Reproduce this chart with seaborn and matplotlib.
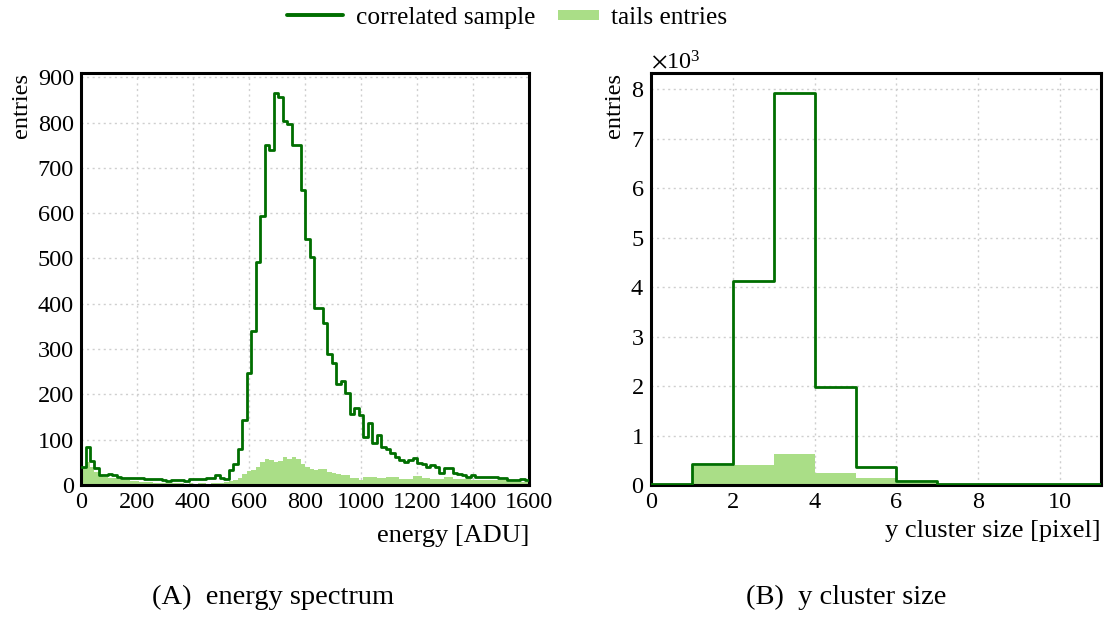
import numpy as np
import pandas as pd
import seaborn as sns
import matplotlib
matplotlib.use("Agg")
import matplotlib.pyplot as plt
from matplotlib.ticker import MultipleLocator, ScalarFormatter
from matplotlib.lines import Line2D
from matplotlib.patches import Patch, Rectangle
from matplotlib.legend_handler import HandlerPatch

# ---------------- data ----------------
energy_range = (0, 1600)
energy_binwidth = 16  # 100 bins
energy_correlated = [
    40, 85, 53, 38, 22, 22, 24, 22, 18, 15,
    15, 15, 16, 16, 14, 14, 13, 13, 12, 9,
    12, 12, 11, 8, 14, 13, 14, 13, 15, 16,
    22, 15, 14, 33, 47, 80, 144, 248, 339, 492,
    593, 750, 739, 866, 856, 804, 796, 750, 750, 651,
    543, 503, 390, 390, 358, 290, 270, 222, 230, 203,
    156, 170, 154, 106, 136, 92, 110, 84, 79, 70,
    62, 55, 50, 55, 60, 49, 46, 39, 44, 40,
    27, 37, 37, 27, 24, 22, 18, 22, 18, 17,
    18, 18, 18, 15, 15, 11, 12, 12, 13, 12,
]
energy_tails = [
    38, 50, 40, 29, 22, 18, 16, 15, 13, 12,
    10, 9, 8, 7, 6, 6, 5, 5, 5, 4,
    4, 4, 4, 3, 4, 3, 4, 4, 3, 4,
    5, 5, 7, 8, 12, 15, 25, 32, 33, 40,
    50, 57, 55, 51, 54, 62, 58, 62, 57, 47,
    40, 36, 33, 35, 35, 29, 27, 24, 23, 22,
    16, 15, 12, 18, 17, 18, 15, 15, 18, 18,
    18, 13, 13, 13, 20, 20, 16, 16, 13, 13,
    13, 18, 18, 14, 14, 14, 14, 11, 11, 11,
    11, 10, 10, 10, 10, 7, 7, 7, 7, 7,
]
cluster_range = (0, 11)
cluster_binwidth = 1
cluster_correlated = [15, 430, 4130, 7930, 1980, 370, 80, 25, 20, 18, 15]
cluster_tails = [5, 390, 400, 630, 240, 135, 45, 8, 5, 3, 2]

legend_labels = ["correlated sample", "tails entries"]
captions = ["(A)  energy spectrum", "(B)  y cluster size"]

# ---------------- style ----------------
sns.set_theme(style="white")
plt.rcParams["font.family"] = ["Liberation Serif", "DejaVu Serif"]
plt.rcParams["mathtext.fontset"] = "stix"
plt.rcParams["text.color"] = "black"
plt.rcParams["axes.labelcolor"] = "black"
FS_TICK = 17.5
FS_LABEL = 19
FS_LEG = 18.3
FS_CAP = 20.5
dark = "#006e00"
light = "#aade87"

fig = plt.figure(figsize=(11.04, 6.17), dpi=100)
axL = fig.add_axes([0.0734, 0.2139, 0.4058, 0.6677])
axR = fig.add_axes([0.5897, 0.2139, 0.4076, 0.6677])


def draw(ax, rng, bw, corr, tails):
    n = len(corr)
    centers = rng[0] + bw * (np.arange(n) + 0.5)
    df = pd.DataFrame({"x": centers, "corr": corr, "tails": tails})
    sns.histplot(data=df, x="x", weights="tails", binwidth=bw, binrange=rng,
                 element="step", fill=True, color=light, alpha=1.0,
                 linewidth=0, ax=ax, zorder=2)
    sns.histplot(data=df, x="x", weights="corr", binwidth=bw, binrange=rng,
                 element="step", fill=False, color=dark, linewidth=2.0,
                 ax=ax, zorder=3)
    ax.set_axisbelow(True)
    ax.grid(True, which="major", linestyle=(0, (1.5, 2.5)), color="#cfcfcf", linewidth=1.0)
    for s in ax.spines.values():
        s.set_linewidth(2.2)
        s.set_color("black")
    ax.tick_params(which="both", direction="in", top=False, right=False,
                   labelsize=FS_TICK, colors="black")
    ax.tick_params(which="major", length=6, width=1.2)
    ax.tick_params(which="minor", length=3.5, width=1.0)
    ax.tick_params(axis="x", which="major", pad=5)
    ax.tick_params(axis="y", which="major", pad=5)
    return max(corr)


m = draw(axL, energy_range, energy_binwidth, energy_correlated, energy_tails)
axL.set_xlim(*energy_range)
axL.set_ylim(0, 1.05 * m)
axL.xaxis.set_major_locator(MultipleLocator(200))
axL.xaxis.set_minor_locator(MultipleLocator(50))
axL.yaxis.set_major_locator(MultipleLocator(100))
axL.yaxis.set_minor_locator(MultipleLocator(20))
axL.set_xlabel("energy [ADU]", fontsize=FS_LABEL, loc="right", labelpad=9)
axL.set_ylabel("entries", fontsize=FS_TICK, loc="top", labelpad=4)

m = draw(axR, cluster_range, cluster_binwidth, cluster_correlated, cluster_tails)
axR.set_xlim(*cluster_range)
axR.set_ylim(0, 1.05 * m)
axR.xaxis.set_major_locator(MultipleLocator(2))
axR.xaxis.set_minor_locator(MultipleLocator(0.5))
axR.yaxis.set_major_locator(MultipleLocator(1000))
axR.yaxis.set_minor_locator(MultipleLocator(200))
fmt = ScalarFormatter(useMathText=True)
fmt.set_powerlimits((0, 0))
axR.yaxis.set_major_formatter(fmt)
axR.yaxis.get_offset_text().set_fontsize(FS_TICK)
axR.set_xlabel("y cluster size [pixel]", fontsize=FS_LABEL, loc="right", labelpad=5)
axR.set_ylabel("entries", fontsize=FS_TICK, loc="top", labelpad=4)


def small_patch(legend, orig_handle, xdescent, ydescent, width, height, fontsize):
    w = width * 0.72
    h = height * 0.55
    return Rectangle((-xdescent + width - w, -ydescent + (height - h) / 2), w, h)


handles = [Line2D([0], [0], color=dark, linewidth=2.8),
           Patch(facecolor=light, edgecolor="none")]
fig.legend(handles, legend_labels, loc="upper center", bbox_to_anchor=(0.4596, 1.027),
           ncol=2, frameon=False, fontsize=FS_LEG, handlelength=2.2,
           handletextpad=0.5, columnspacing=0.3,
           handler_map={Patch: HandlerPatch(patch_func=small_patch)})

fig.text(273 / 1104, 0.032, captions[0], ha="center", va="center", fontsize=FS_CAP)
fig.text(846 / 1104, 0.032, captions[1], ha="center", va="center", fontsize=FS_CAP)

fig.savefig("out.png", dpi=100)
